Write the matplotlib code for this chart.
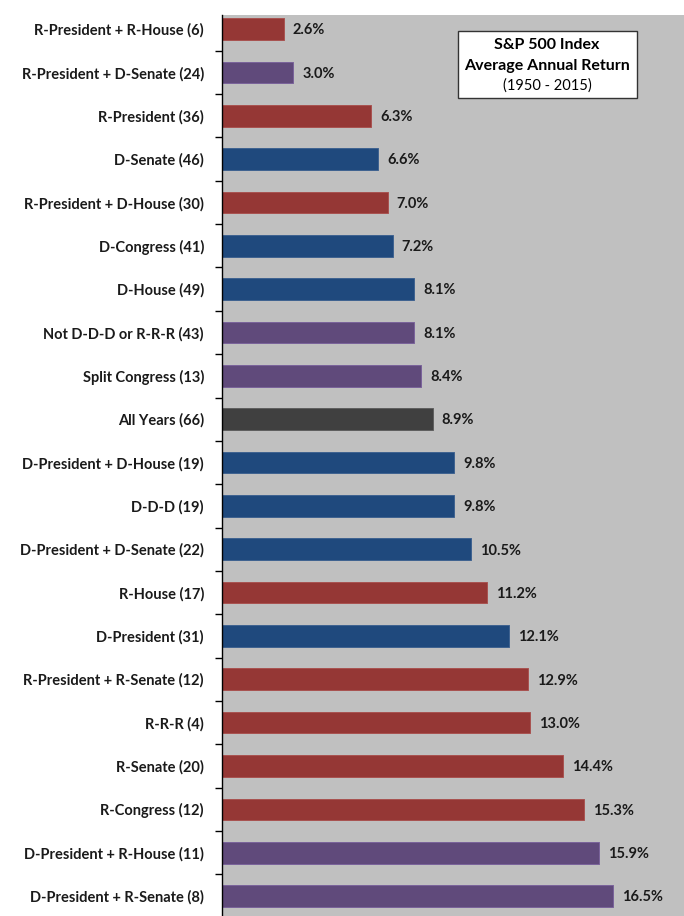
import matplotlib.pyplot as plt
import numpy as np

# Chart data (top to bottom)
labels = [
    "R-President + R-House (6)", "R-President + D-Senate (24)", "R-President (36)",
    "D-Senate (46)", "R-President + D-House (30)", "D-Congress (41)", "D-House (49)",
    "Not D-D-D or R-R-R (43)", "Split Congress (13)", "All Years (66)",
    "D-President + D-House (19)", "D-D-D (19)", "D-President + D-Senate (22)",
    "R-House (17)", "D-President (31)", "R-President + R-Senate (12)", "R-R-R (4)",
    "R-Senate (20)", "R-Congress (12)", "D-President + R-House (11)",
    "D-President + R-Senate (8)",
]
returns = [2.6, 3.0, 6.3, 6.6, 7.0, 7.2, 8.1, 8.1, 8.4, 8.9, 9.8, 9.8, 10.5,
           11.2, 12.1, 12.9, 13.0, 14.4, 15.3, 15.9, 16.5]
groups = ["R", "M", "R", "D", "R", "D", "D", "M", "M", "A", "D", "D", "D",
          "R", "D", "R", "R", "R", "R", "M", "M"]

palette = {"R": "#953735", "D": "#1F497D", "M": "#604A7B", "A": "#404040"}
edges = {"R": "#A85250", "D": "#3F6290", "M": "#7A629A", "A": "#606060"}

plt.rcParams['font.family'] = ['Lato', 'DejaVu Sans']

fig = plt.figure(figsize=(6.84, 9.16), dpi=100)
ax = fig.add_axes([222 / 684, 0, 1 - 222 / 684, 1 - 15 / 916])
ax.set_facecolor("#C0C0C0")

y = np.arange(len(labels))
ax.barh(y, returns, height=0.5,
        color=[palette[g] for g in groups],
        edgecolor=[edges[g] for g in groups], linewidth=0.7)

for yi, v in zip(y, returns):
    ax.text(v + 0.38, yi + 0.03, f"{v:.1f}%", va="center", ha="left",
            fontsize=10.5, fontweight="bold", color="#1a1a1a")

ax.set_xlim(0, 19.5)
ax.set_ylim(20.46, -0.323)

ax.set_yticks(y)
ax.set_yticklabels(labels, fontsize=10.5, fontweight="bold", color="#1a1a1a")
ax.tick_params(axis="y", which="major", length=0, pad=13)
ax.set_yticks(y[:-1] + 0.5, minor=True)
ax.tick_params(axis="y", which="minor", length=5, direction="out", width=1)
ax.set_xticks([])

for s in ["top", "right", "bottom"]:
    ax.spines[s].set_visible(False)
ax.spines["left"].set_linewidth(1)

# Title box (pixel positions converted to figure fractions)
box = plt.Rectangle((458 / 684, 1 - 98 / 916), (637 - 458) / 684, (98 - 31) / 916,
                    transform=fig.transFigure, facecolor="white",
                    edgecolor="#333333", linewidth=1, zorder=5, clip_on=False)
ax.add_patch(box)
cx = 547 / 684
ax.text(cx, 1 - 45 / 916, "S&P 500 Index", transform=fig.transFigure,
        ha="center", va="center", fontsize=11.5, fontweight="bold", zorder=6)
ax.text(cx, 1 - 66 / 916, "Average Annual Return", transform=fig.transFigure,
        ha="center", va="center", fontsize=11.5, fontweight="bold", zorder=6)
ax.text(cx, 1 - 86 / 916, "(1950 - 2015)", transform=fig.transFigure,
        ha="center", va="center", fontsize=10.5, zorder=6)

fig.savefig("out.png", dpi=100)
